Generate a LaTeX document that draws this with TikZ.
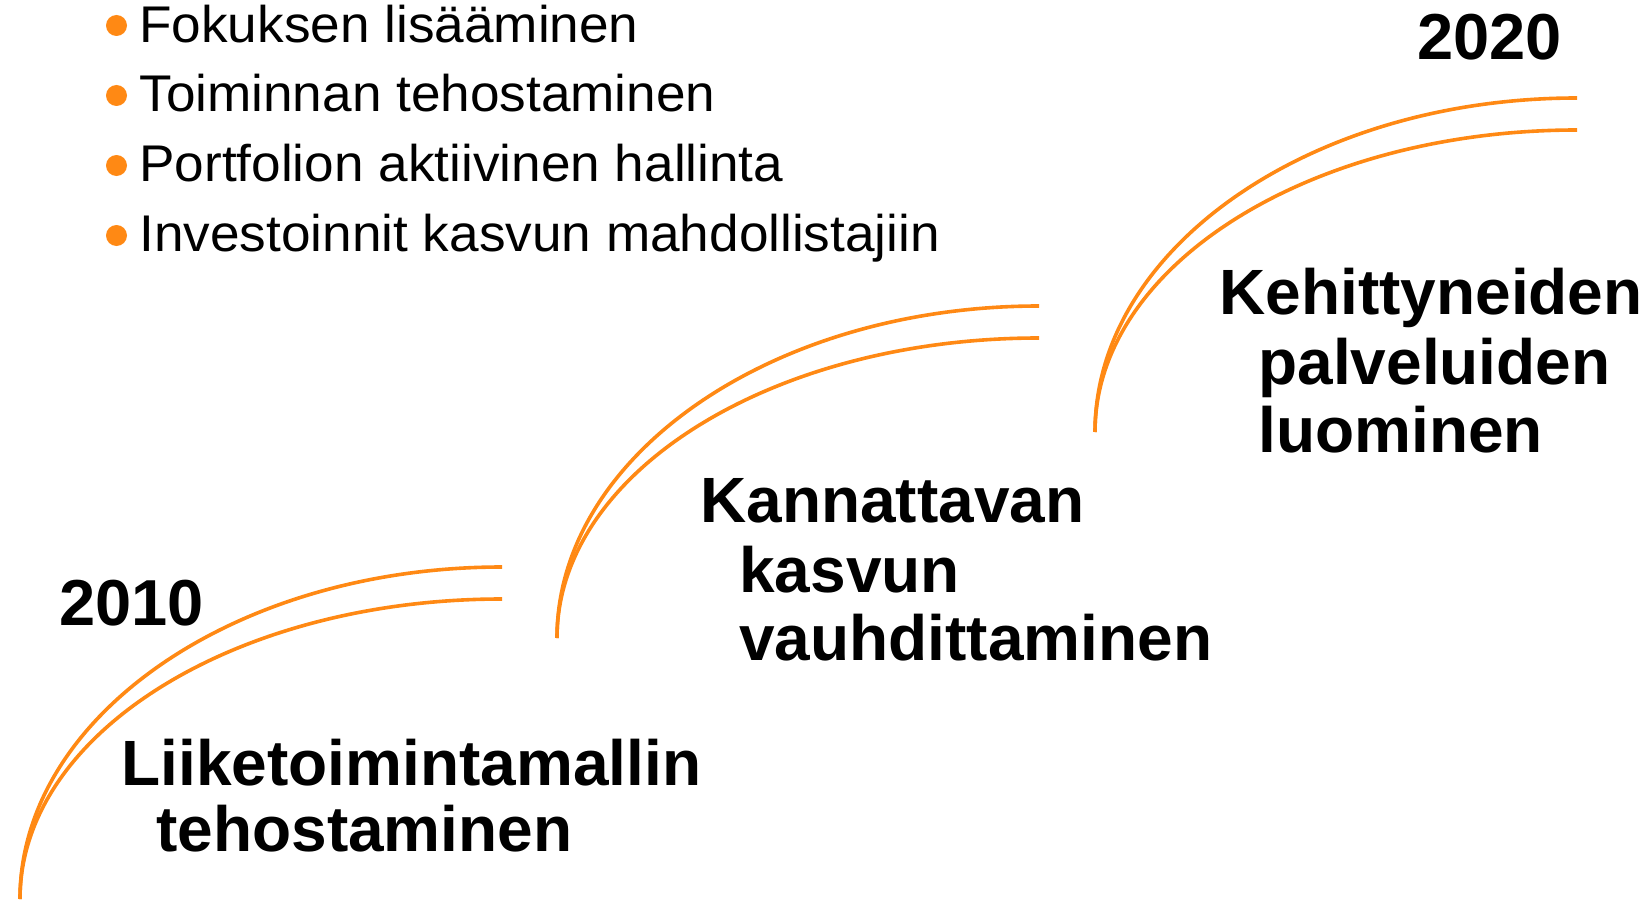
\documentclass[tikz,border=0pt]{standalone}
\usepackage{fontspec}
\setmainfont{Liberation Sans}
\newfontfamily\listfont[FakeStretch=1.03]{Liberation Sans}
\usetikzlibrary{shapes.geometric}
\definecolor{orng}{RGB}{255,137,20}
\tikzset{
  arcline/.style={draw=orng, line width=1.8pt},
  bigtxt/.style={anchor=base west, inner sep=0pt, font=\fontsize{32pt}{32pt}\selectfont\bfseries},
  yeartxt/.style={anchor=base west, inner sep=0pt, font=\fontsize{32.5pt}{32.5pt}\selectfont\bfseries},
  listtxt/.style={anchor=base west, inner sep=0pt, font=\listfont\fontsize{25.8pt}{25.8pt}\selectfont},
  dotmark/.style={fill=orng, draw=none, circle, minimum size=10.5pt, inner sep=0pt}
}
\begin{document}
\begin{tikzpicture}[x=0.5pt,y=-0.5pt]
\useasboundingbox (0,0) rectangle (1648,899);
% curves
\coordinate (b1) at (20,899);
\coordinate (o1) at (502,567);
\coordinate (i1) at (502,599);
\coordinate (b2) at (557,638);
\coordinate (o2) at (1039,306);
\coordinate (i2) at (1039,338);
\coordinate (b3) at (1095,432);
\coordinate (o3) at (1577,98);
\coordinate (i3) at (1577,130);
\draw[arcline] (b1) .. controls (20,716) and (236,567) .. (o1);
\draw[arcline] (b1) .. controls (20,733) and (236,599) .. (i1);
\draw[arcline] (b2) .. controls (557,455) and (773,306) .. (o2);
\draw[arcline] (b2) .. controls (557,472) and (773,338) .. (i2);
\draw[arcline] (b3) .. controls (1095,248) and (1311,98) .. (o3);
\draw[arcline] (b3) .. controls (1095,265) and (1311,130) .. (i3);
% years
\node[yeartxt] (y2010) at (59,625) {2010};
\node[yeartxt] (y2020) at (1417,59.5) {2020};
% stage labels
\node[bigtxt] (s1a) at (121,785) {Liiketoimintamallin};
\node[bigtxt] (s1b) at (156,851) {tehostaminen};
\node[bigtxt] (s2a) at (700,522) {Kannattavan};
\node[bigtxt] (s2b) at (739,592) {kasvun};
\node[bigtxt] (s2c) at (739,660) {vauhdittaminen};
\node[bigtxt] (s3a) at (1219,314) {Kehittyneiden};
\node[bigtxt] (s3b) at (1258,384) {palveluiden};
\node[bigtxt] (s3c) at (1258,452) {luominen};
% bullet list
\node[dotmark] (d1) at (116.5,25.5) {};
\node[dotmark] (d2) at (116.5,95.5) {};
\node[dotmark] (d3) at (116.5,165.5) {};
\node[dotmark] (d4) at (116.5,235.5) {};
\node[listtxt] (l1) at (139,43) {Fokuksen lisääminen};
\node[listtxt] (l2) at (139,112) {Toiminnan tehostaminen};
\node[listtxt] (l3) at (139,181) {Portfolion aktiivinen hallinta};
\node[listtxt] (l4) at (139,251) {Investoinnit kasvun mahdollistajiin};
\end{tikzpicture}
\end{document}
